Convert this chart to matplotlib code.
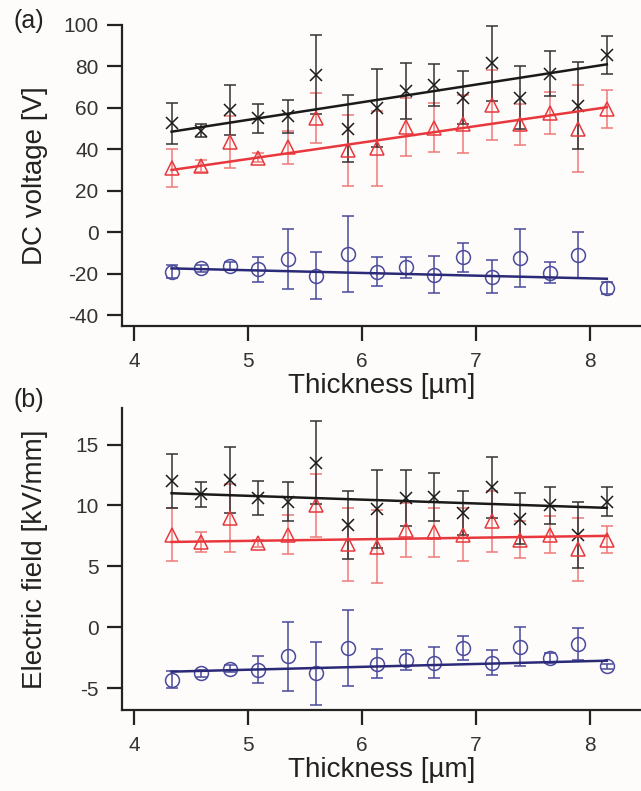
import matplotlib
matplotlib.use("Agg")
import matplotlib.pyplot as plt
import numpy as np

# thickness of each sample [um]
thickness = [4.33, 4.59, 4.84, 5.09, 5.35, 5.60, 5.88, 6.13,
             6.39, 6.63, 6.89, 7.14, 7.39, 7.65, 7.90, 8.15]

# (a) DC voltage [V]
volt_black = [52.5, 49, 59, 55, 56, 76, 50, 60, 68, 71, 65, 81.5, 65, 76.5, 61, 85.5]
volt_black_err = [10, 3, 12, 7, 8, 19, 16, 19, 13.5, 10, 13, 18, 15, 11, 21, 9]
volt_red = [31, 32, 43.5, 36, 41, 55, 39.5, 40.5, 51, 50.5, 52, 61.5, 52, 57.5, 50, 59.5]
volt_red_err = [9, 3, 12.5, 2, 8, 12, 17, 18, 14, 12, 14, 17, 10, 10, 21, 9]
volt_blue = [-19, -17.5, -16.5, -18, -13, -21, -10.5, -19, -17, -20.5, -12, -21.5, -12.5, -19.5, -11, -27]
volt_blue_err = [3, 1.5, 2, 6, 14.5, 11.5, 18.5, 7, 5, 9, 7, 8, 14, 5, 11, 3]
# linear fits, value at first and last thickness
volt_fit_black = [48.5, 81.0]
volt_fit_red = [30.0, 60.3]
volt_fit_blue = [-17.5, -22.5]

# (b) Electric field [kV/mm]
field_black = [12.0, 10.9, 12.1, 10.6, 10.3, 13.5, 8.4, 9.7, 10.6, 10.7, 9.4, 11.5, 8.9, 10.0, 7.6, 10.3]
field_black_err = [2.2, 1.0, 2.7, 1.4, 1.6, 3.4, 2.8, 3.2, 2.3, 2.0, 1.8, 2.5, 2.1, 1.5, 2.7, 1.2]
field_red = [7.6, 7.0, 9.0, 6.9, 7.6, 10.0, 6.8, 6.6, 8.0, 7.8, 7.6, 8.7, 7.2, 7.6, 6.4, 7.2]
field_red_err = [2.2, 0.8, 2.8, 0.3, 1.6, 2.6, 3.0, 3.0, 2.2, 2.0, 2.2, 2.5, 1.5, 1.5, 2.6, 1.1]
field_blue = [-4.3, -3.8, -3.4, -3.5, -2.4, -3.8, -1.7, -3.0, -2.7, -2.9, -1.7, -2.9, -1.6, -2.5, -1.4, -3.2]
field_blue_err = [0.7, 0.3, 0.3, 1.1, 2.8, 2.6, 3.1, 1.2, 0.8, 1.3, 1.0, 1.0, 1.6, 0.4, 1.3, 0.2]
field_fit_black = [11.0, 9.8]
field_fit_red = [7.0, 7.5]
field_fit_blue = [-3.65, -2.75]

BLACK = "#1a1a1a"
RED = "#e8383d"
RED_ERR = "#ee7a78"
BLUE = "#4b4a9c"
BLUE_LINE = "#2a2a78"
BG = "#fdfcfa"

plt.rcParams.update({
    "font.family": ["Liberation Sans", "DejaVu Sans"],
    "font.size": 15,
    "axes.unicode_minus": False,
    "axes.linewidth": 1.6,
    "xtick.major.size": 11,
    "ytick.major.size": 11,
    "xtick.major.width": 1.6,
    "ytick.major.width": 1.6,
    "xtick.direction": "out",
    "ytick.direction": "out",
    "xtick.major.pad": 8,
    "ytick.major.pad": 6,
    "xtick.color": "#222222",
    "ytick.color": "#222222",
})

W, H = 641, 791
fig = plt.figure(figsize=(W / 100, H / 100), dpi=100, facecolor=BG)


def px_axes(left, top, right, bottom):
    return fig.add_axes([left / W, 1 - bottom / H, (right - left) / W, (bottom - top) / H])


ax_a = px_axes(122, 25, 641, 326)
ax_b = px_axes(122, 408, 641, 710)

x_ends = [thickness[0], thickness[-1]]


def draw_panel(ax, series, fits):
    for (y, err, marker, mcol, ecol, ms), (fit, lcol) in zip(series, fits):
        ax.errorbar(thickness, y, yerr=err, fmt="none", ecolor=ecol,
                    elinewidth=1.1, capsize=4.3, capthick=1.1, zorder=2)
        if marker == "x":
            ax.plot(thickness, y, linestyle="none", marker=marker, markersize=ms,
                    markeredgewidth=1.1, color=mcol, zorder=3)
        else:
            ax.plot(thickness, y, linestyle="none", marker=marker, markersize=ms,
                    markerfacecolor="none", markeredgewidth=1.1,
                    markeredgecolor=mcol, zorder=3)
        ax.plot(x_ends, fit, color=lcol, linewidth=1.8, zorder=4)


draw_panel(
    ax_a,
    [(volt_blue, volt_blue_err, "o", BLUE, BLUE, 10),
     (volt_red, volt_red_err, "^", RED, RED_ERR, 10),
     (volt_black, volt_black_err, "x", BLACK, "#333333", 9)],
    [(volt_fit_blue, BLUE_LINE), (volt_fit_red, RED), (volt_fit_black, BLACK)],
)
draw_panel(
    ax_b,
    [(field_blue, field_blue_err, "o", BLUE, BLUE, 10),
     (field_red, field_red_err, "^", RED, RED_ERR, 10),
     (field_black, field_black_err, "x", BLACK, "#333333", 9)],
    [(field_fit_blue, BLUE_LINE), (field_fit_red, RED), (field_fit_black, BLACK)],
)

xlim = (3.895, 8.45)
ax_a.set_xlim(*xlim)
ax_b.set_xlim(*xlim)
ax_a.set_ylim(-45.3, 100)
ax_b.set_ylim(-6.8, 18.0)
ax_a.set_yticks([100, 80, 60, 40, 20, 0, -20, -40])
ax_b.set_yticks([15, 10, 5, 0, -5])
for ax in (ax_a, ax_b):
    ax.set_xticks([4, 5, 6, 7, 8])
    ax.set_facecolor(BG)
    ax.spines["top"].set_visible(False)
    ax.spines["right"].set_visible(False)
    ax.spines["left"].set_color("#222222")
    ax.spines["bottom"].set_color("#222222")
    ax.set_xlabel("Thickness [µm]", fontsize=20, labelpad=1, color="#222222")
    ax.yaxis.set_label_coords(-0.143, 0.5)
    for lab in ax.get_xticklabels() + ax.get_yticklabels():
        lab.set_color("#333333")

ax_a.set_ylabel("DC voltage [V]", fontsize=20, color="#222222")
ax_b.set_ylabel("Electric field [kV/mm]", fontsize=20, color="#222222")

fig.text(29 / W, 1 - 21 / H, "(a)", fontsize=18, ha="center", va="center", color="#222222")
fig.text(29 / W, 1 - 400 / H, "(b)", fontsize=18, ha="center", va="center", color="#222222")

fig.savefig("out.png", dpi=100, facecolor=BG)
plt.close(fig)
print("Saved: out.png")
